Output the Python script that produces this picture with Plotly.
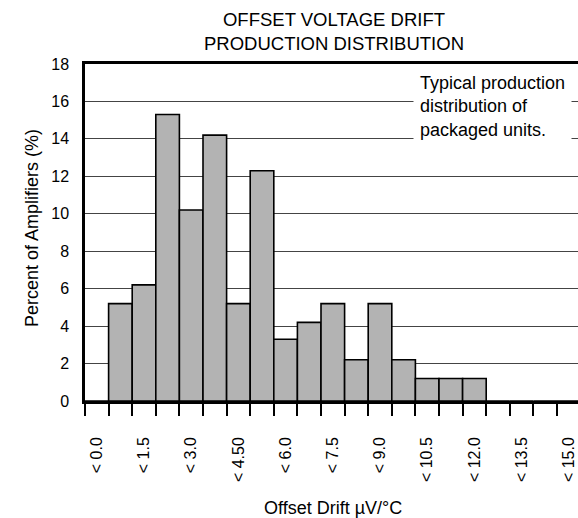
import plotly.graph_objects as go

categories = ["< 0.0", "< 0.75", "< 1.5", "< 2.25", "< 3.0", "< 3.75", "< 4.50", "< 5.25",
              "< 6.0", "< 6.75", "< 7.5", "< 8.25", "< 9.0", "< 9.75", "< 10.5", "< 11.25",
              "< 12.0", "< 12.75", "< 13.5", "< 14.25", "< 15.0"]
percent = [0, 5.2, 6.2, 15.3, 10.2, 14.2, 5.2, 12.3, 3.3, 4.2, 5.2, 2.2, 5.2, 2.2,
           1.2, 1.2, 1.2, 0, 0, 0, 0]
y_ticks = [0, 2, 4, 6, 8, 10, 12, 14, 16, 18]

FONT = "Liberation Sans, Arial, sans-serif"
idx = list(range(len(categories)))
label_idx = idx[::2]
label_txt = [categories[i] for i in label_idx]
boundaries = [i - 0.5 for i in idx]

fig = go.Figure()
fig.add_trace(go.Bar(
    x=idx, y=percent, width=1,
    marker=dict(color="#b3b3b3", line=dict(color="black", width=1.6)),
))

fig.update_layout(
    width=578, height=518,
    margin=dict(l=85, r=0, t=64, b=117, autoexpand=False),
    paper_bgcolor="white", plot_bgcolor="white",
    showlegend=False,
    font=dict(family=FONT, size=16, color="black"),
    title=dict(text="OFFSET VOLTAGE DRIFT<br>PRODUCTION DISTRIBUTION",
               x=(334 - 85) / 493, xref="paper", xanchor="center",
               y=1 - 26 / 518, yref="container", yanchor="middle",
               font=dict(family=FONT, size=18.5, color="black")),
    xaxis=dict(
        automargin=False,
        range=[-0.5, -0.5 + 493 / 23.6],
        tickmode="array", tickvals=label_idx, ticktext=label_txt,
        tickangle=-90, ticks="", ticklabelstandoff=27,
        showgrid=False, zeroline=False,
        showline=True, linecolor="black", linewidth=2.5, mirror=True,
        minor=dict(tickmode="array", tickvals=boundaries, ticks="outside",
                   ticklen=12, tickwidth=1.5, tickcolor="black", showgrid=False),
        tickfont=dict(family=FONT, size=16),
    ),
    yaxis=dict(
        automargin=False,
        range=[0, 18], tickmode="array", tickvals=y_ticks,
        ticks="", ticklabelstandoff=10,
        showgrid=True, gridcolor="#444444", gridwidth=1,
        zeroline=False, showline=True, linecolor="black", linewidth=2.5,
        tickfont=dict(family=FONT, size=16),
    ),
    annotations=[
        dict(text="Typical production<br>distribution of<br>packaged units.",
             xref="paper", yref="paper",
             x=(413 - 85) / 493, y=(401 - 66) / 337,
             xanchor="left", yanchor="top", align="left",
             showarrow=False, bgcolor="white", borderpad=6, borderwidth=1,
             bordercolor="rgba(0,0,0,0)",
             font=dict(family=FONT, size=18)),
        dict(text="Percent of Amplifiers (%)", textangle=-90,
             xref="paper", yref="paper",
             x=(32 - 85) / 493, y=(401 - 228) / 337, xanchor="center", yanchor="middle",
             showarrow=False, font=dict(family=FONT, size=18)),
        dict(text="Offset Drift µV/°C",
             xref="paper", yref="paper",
             x=(333 - 85) / 493, y=(401 - 508) / 337, xanchor="center", yanchor="middle",
             showarrow=False, font=dict(family=FONT, size=18)),
    ],
)

fig.write_html("out.html",
               config={"displayModeBar": False},
               post_script="document.body.style.margin='0';document.body.style.overflow='hidden';")
